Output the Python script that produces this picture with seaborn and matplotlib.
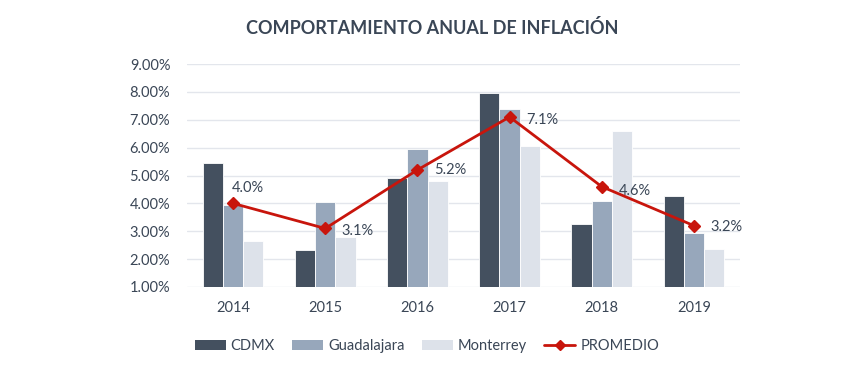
import matplotlib
matplotlib.use("Agg")
import matplotlib.pyplot as plt
import seaborn as sns
import pandas as pd
import numpy as np
from matplotlib.ticker import FuncFormatter
from matplotlib.lines import Line2D
from matplotlib.patches import Patch

years = ["2014", "2015", "2016", "2017", "2018", "2019"]
cdmx = [5.44, 2.33, 4.90, 7.95, 3.26, 4.26]
guadalajara = [3.94, 4.05, 5.95, 7.38, 4.08, 2.94]
monterrey = [2.65, 2.79, 4.80, 6.05, 6.59, 2.36]
promedio = [4.0, 3.1, 5.2, 7.1, 4.6, 3.2]
series_names = ["CDMX", "Guadalajara", "Monterrey"]
colors = ["#44505f", "#97a7bb", "#dde2ea"]
red = "#c8150c"
text_color = "#3a4656"

sns.set_theme(style="white")
plt.rcParams['font.family'] = ['Lato', 'DejaVu Sans']

df = pd.DataFrame({
    "Año": years * 3,
    "Serie": [s for s in series_names for _ in years],
    "Valor": cdmx + guadalajara + monterrey,
})

fig = plt.figure(figsize=(8.64, 3.68), dpi=100)
ax = fig.add_axes([187/864, 1 - 287/368, (740-187)/864, (287-64)/368])

sns.barplot(data=df, x="Año", y="Valor", hue="Serie", palette=colors,
            width=0.66, ax=ax, legend=False, saturation=1)
for p in ax.patches:
    p.set_edgecolor("white")
    p.set_linewidth(0.6)

xs = np.arange(len(years))
ax.plot(xs, promedio, color=red, lw=2, marker="D", markersize=6, zorder=5)
offsets = [(-1, 11), (12, -2), (12, 0), (12, -2), (12, -3), (12, -1)]
for x, v, off in zip(xs, promedio, offsets):
    ax.annotate(f"{v:.1f}%", (x, v), xytext=off, textcoords="offset points",
                ha="left", va="center", fontsize=10.5, color=text_color)

ax.set_ylim(1, 9)
ax.set_yticks(np.arange(1, 9.01, 1))
ax.yaxis.set_major_formatter(FuncFormatter(lambda v, p: f"{v:.2f}%"))
ax.set_xlim(-0.5, 5.5)
ax.grid(axis="y", color="#e3e6ec", lw=1)
ax.set_axisbelow(True)
for s in ax.spines.values():
    s.set_visible(False)
ax.tick_params(axis="both", length=0, labelsize=10.5, colors=text_color)
ax.tick_params(axis="y", pad=12)
ax.tick_params(axis="x", pad=10)
ax.set_xlabel("")
ax.set_ylabel("")

fig.text(0.5, 1 - 28/368, "COMPORTAMIENTO ANUAL DE INFLACIÓN", ha="center", va="center",
         fontsize=13, fontweight="bold", color=text_color)

handles = [Patch(facecolor=c, edgecolor="none") for c in colors]
handles.append(Line2D([0], [0], color=red, lw=2, marker="D", markersize=5))
fig.legend(handles, series_names + ["PROMEDIO"], loc="center", ncol=4,
           bbox_to_anchor=(427/864, 1 - 346/368), frameon=False, fontsize=10.5,
           labelcolor=text_color, handlelength=2.1, handleheight=0.7,
           columnspacing=1.2, handletextpad=0.35)

fig.savefig("out.png", dpi=100)
